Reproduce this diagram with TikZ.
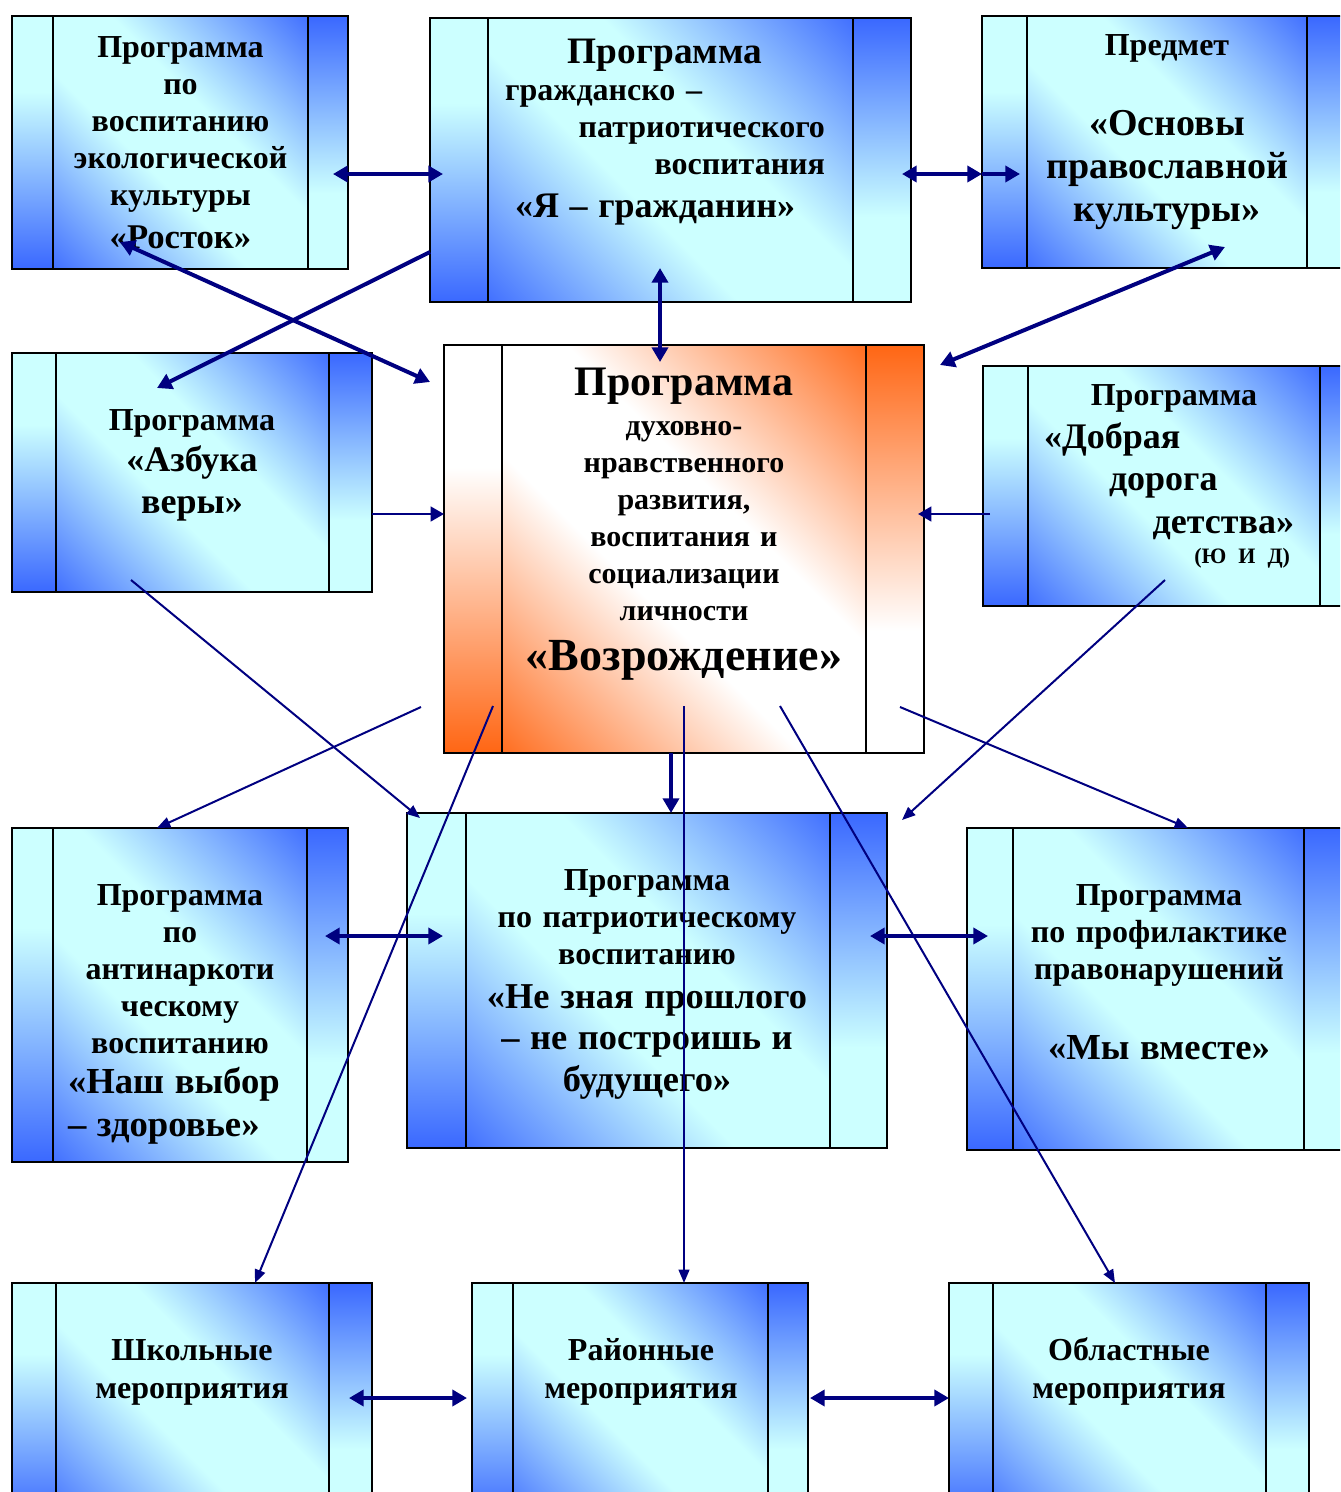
\documentclass[tikz,border=0pt]{standalone}
\usepackage{fontspec}
\setmainfont{Liberation Serif}
\usetikzlibrary{arrows.meta,fit}
\definecolor{bB}{RGB}{58,104,255}
\definecolor{bC}{RGB}{204,255,255}
\definecolor{oO}{RGB}{255,102,20}
\definecolor{oW}{RGB}{255,255,255}
\definecolor{navy}{RGB}{0,0,128}
\pgfdeclareverticalshading{bL}{100bp}{color(0bp)=(bB); color(25bp)=(bB); color(60bp)=(bC); color(100bp)=(bC)}
\pgfdeclareverticalshading{bR}{100bp}{color(0bp)=(bC); color(40bp)=(bC); color(75bp)=(bB); color(100bp)=(bB)}
\pgfdeclareverticalshading{bM}{100bp}{color(0bp)=(bB); color(13bp)=(bB); color(42bp)=(bC); color(58bp)=(bC); color(87bp)=(bB); color(100bp)=(bB)}
\pgfdeclareverticalshading{oL}{100bp}{color(0bp)=(oO); color(25bp)=(oO); color(60bp)=(oW); color(100bp)=(oW)}
\pgfdeclareverticalshading{oR}{100bp}{color(0bp)=(oW); color(40bp)=(oW); color(75bp)=(oO); color(100bp)=(oO)}
\pgfdeclareverticalshading{oM}{100bp}{color(0bp)=(oO); color(13bp)=(oO); color(42bp)=(oW); color(58bp)=(oW); color(87bp)=(oO); color(100bp)=(oO)}
\tikzset{
  frame/.style={draw=black, line width=1.3pt},
  divider/.style={draw=black, line width=1pt},
  thickarrow/.style={draw=navy, line width=3pt, -{Triangle[length=11pt,width=12pt]}},
  thickboth/.style={draw=navy, line width=3pt, {Triangle[length=11pt,width=12pt]}-{Triangle[length=11pt,width=12pt]}},
  midarrow/.style={draw=navy, line width=1.8pt, -{Triangle[length=10pt,width=11pt]}},
  thinarrow/.style={draw=navy, line width=1.5pt, -{Triangle[length=10pt,width=8pt]}},
  txt/.style={anchor=base, inner sep=0pt, align=center, font=\bfseries\fontsize{24}{27.75}\selectfont},
}
\newcommand\pbox[8]{%
  \shade[shading=#8L] (#2,#6) rectangle (#3,#7);
  \shade[shading=#8M,shading angle=-45] (#3,#6) rectangle (#4,#7);
  \shade[shading=#8R] (#4,#6) rectangle (#5,#7);
  \draw[frame] (#2,#6) rectangle (#5,#7);
  \draw[divider] (#3,#6) -- (#3,#7) (#4,#6) -- (#4,#7);
  \node[fit={(#2,#6)(#5,#7)},inner sep=0pt] (#1) {};
}
\newcommand\bigf[1]{\fontsize{#1}{#1}\selectfont}
\begin{document}
\begin{tikzpicture}[x=0.75pt,y=-0.75pt]
\useasboundingbox (0,0) rectangle (1340,1492);
\clip (0,0) rectangle (1340,1492);
% boxes
\pbox{A}{12}{53}{308}{348}{16}{269}{b}
\pbox{B}{430}{488}{853}{911}{18}{302}{b}
\pbox{C}{982}{1027}{1307}{1352}{16}{268}{b}
\pbox{D}{444}{502}{866}{924}{345}{753}{o}
\pbox{E}{12}{56}{329}{372}{353}{592}{b}
\pbox{F}{983}{1028}{1320}{1365}{366}{606}{b}
\pbox{G}{12}{53}{307}{348}{828}{1162}{b}
\pbox{H}{407}{466}{830}{887}{813}{1148}{b}
\pbox{I}{967}{1013}{1304}{1350}{828}{1150}{b}
\pbox{J}{12}{56}{329}{372}{1283}{1520}{b}
\pbox{K}{472}{513}{768}{808}{1283}{1520}{b}
\pbox{L}{949}{993}{1266}{1309}{1283}{1520}{b}
% texts
\node[txt, text width=191pt] (tA) at (180.5,57) {Программа\\ по\\ воспитанию\\ экологической\\ культуры\\[4.5pt] {\bigf{26}«Росток»}};
\node[txt, text width=240pt] (tB) at (665,63) {{\bigf{28}Программа}\\ \makebox[\linewidth][l]{гражданско –}\\ \makebox[\linewidth][r]{патриотического}\\ \makebox[\linewidth][r]{воспитания}\\[4.5pt] \makebox[\linewidth][l]{\hspace*{7.5pt}\bigf{27}«Я – гражданин»}};
\node[txt, text width=210pt, font=\bfseries\fontsize{28.5}{32.25}\selectfont] (tC) at (1167,55) {{\bigf{24}Предмет}\\[27.75pt] «Основы\\ православной\\ культуры»};
\node[txt, text width=270pt, font=\bfseries\fontsize{22.5}{27.75}\selectfont] (tD) at (684,395) {{\bigf{31.5}Программа}\\[2.25pt] духовно-\\ нравственного\\ развития,\\ воспитания и\\ социализации\\ личности\\[9.75pt] {\bigf{34.5}«Возрождение»}};
\node[txt, text width=205pt, font=\bfseries\fontsize{27}{31.5}\selectfont] (tE) at (192,430) {{\bigf{24}Программа}\\[-0.75pt] «Азбука\\ веры»};
\node[txt, text width=187.5pt, font=\bfseries\fontsize{27}{32.25}\selectfont] (tF) at (1169,405) {\makebox[\linewidth]{\hspace*{7.5pt}\bigf{24}Программа}\\ \makebox[\linewidth][l]{«Добрая}\\[-0.75pt] \makebox[\linewidth][l]{\hspace*{48.75pt}дорога}\\ \makebox[\linewidth][r]{детства»}\\[-9.75pt] \makebox[\linewidth][r]{\bigf{16.5}(Ю И Д)\hspace*{3pt}}};
\node[txt, text width=168pt] (tG) at (180,905) {Программа\\ по\\ антинаркоти\\ ческому\\ воспитанию\\[2.25pt] \makebox[\linewidth][l]{\bigf{27.5}«Наш выбор}\\[4.5pt] \makebox[\linewidth][l]{\bigf{27.5}– здоровье»}};
\node[txt, text width=255pt] (tH) at (647,890) {Программа\\ по патриотическому\\ воспитанию\\[5.25pt] {\bigf{27.3}«Не зная прошлого}\\[3pt] {\bigf{27.3}– не построишь и}\\[3.75pt] {\bigf{27.3}будущего»}};
\node[txt, text width=218pt] (tI) at (1159,905) {Программа\\ по профилактике\\ правонарушений\\[32.25pt] {\bigf{27.5}«Мы вместе»}};
\node[txt, text width=205pt] (tJ) at (192,1360) {Школьные\\[0.75pt] мероприятия};
\node[txt, text width=191pt] (tK) at (641,1360) {Районные\\[0.75pt] мероприятия};
\node[txt, text width=205pt] (tL) at (1129,1360) {Областные\\[0.75pt] мероприятия};
% connector end points
\coordinate (ab1) at (333,174); \coordinate (ab2) at (443,174);
\coordinate (bc1) at (902,174); \coordinate (bc2) at (982,174); \coordinate (bc3) at (1020,174);
\coordinate (bd1) at (660,268); \coordinate (bd2) at (660,362);
\coordinate (ad1) at (120,242); \coordinate (ad2) at (430,382);
\coordinate (be1) at (430,252); \coordinate (be2) at (157,388);
\coordinate (dc1) at (940,365); \coordinate (dc2) at (1225,247);
\coordinate (ed1) at (372,514); \coordinate (ed2) at (444,514);
\coordinate (fd1) at (990,514); \coordinate (fd2) at (918,514);
\coordinate (dh1) at (671,753); \coordinate (dh2) at (671,813);
\coordinate (dg1) at (421,707); \coordinate (dg2) at (157,828);
\coordinate (eh1) at (131,580); \coordinate (eh2) at (420,818);
\coordinate (dj1) at (493,706); \coordinate (dj2) at (255,1283);
\coordinate (dk1) at (684,706); \coordinate (dk2) at (684,1283);
\coordinate (dl1) at (780,706); \coordinate (dl2) at (1115,1283);
\coordinate (di1) at (900,707); \coordinate (di2) at (1188,828);
\coordinate (fh1) at (1165,580); \coordinate (fh2) at (902,820);
\coordinate (gh1) at (325,936); \coordinate (gh2) at (443,936);
\coordinate (hi1) at (870,936); \coordinate (hi2) at (988,936);
\coordinate (jk1) at (349,1398); \coordinate (jk2) at (467,1398);
\coordinate (kl1) at (810,1398); \coordinate (kl2) at (949,1398);
% connectors
\draw[thickboth] (ab1) -- (ab2);
\draw[thickboth] (bc1) -- (bc2);
\draw[thickarrow] (bc2) -- (bc3);
\draw[thickboth] (bd1) -- (bd2);
\draw[thickboth] (ad1) -- (ad2);
\draw[thickarrow] (be1) -- (be2);
\draw[thickboth] (dc1) -- (dc2);
\draw[midarrow] (ed1) -- (ed2);
\draw[midarrow] (fd1) -- (fd2);
\draw[thickarrow] (dh1) -- (dh2);
\draw[thinarrow] (dg1) -- (dg2);
\draw[thinarrow] (eh1) -- (eh2);
\draw[thinarrow] (dj1) -- (dj2);
\draw[thinarrow] (dk1) -- (dk2);
\draw[thinarrow] (dl1) -- (dl2);
\draw[thinarrow] (di1) -- (di2);
\draw[thinarrow] (fh1) -- (fh2);
\draw[thickboth] (gh1) -- (gh2);
\draw[thickboth] (hi1) -- (hi2);
\draw[thickboth] (jk1) -- (jk2);
\draw[thickboth] (kl1) -- (kl2);
\end{tikzpicture}
\end{document}
